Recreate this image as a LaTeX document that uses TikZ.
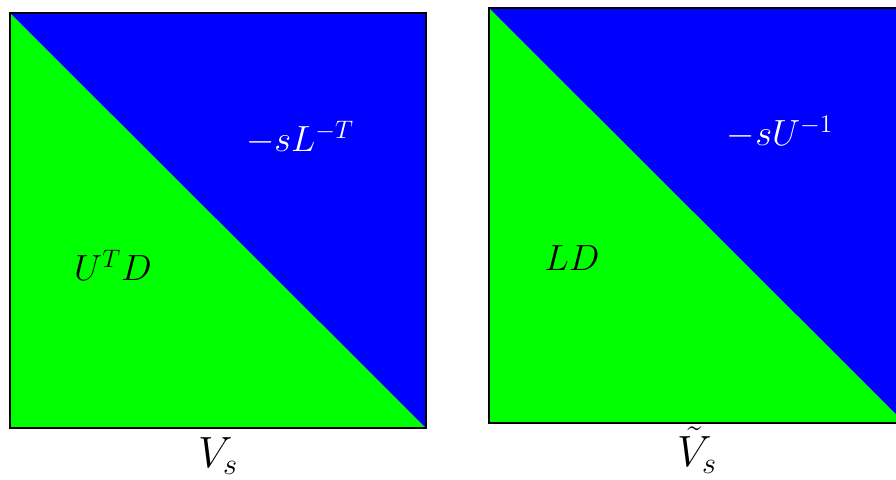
\documentclass[tikz,border=0pt]{standalone}
\usepackage{amsmath,amssymb}
\usepackage{xcolor}
\usepackage{tikz}
\usetikzlibrary{positioning,calc}
\definecolor{lowgreen}{RGB}{0,255,0}
\definecolor{upblue}{RGB}{0,0,255}

\begin{document}
\begin{tikzpicture}[
  frame/.style={line width=1.7pt, black},
  inlabel/.style={font=\fontsize{22}{26}\selectfont, inner sep=0pt},
  caption/.style={font=\fontsize{24}{28}\selectfont, inner sep=0pt}
]
\useasboundingbox (0,0) rectangle (17.92,9.58);
\clip (0,0) rectangle (17.92,9.58);

% Left block V_s
\begin{scope}[xshift=0.2cm, yshift=1.02cm]
  \coordinate (A1) at (0,0);
  \coordinate (A2) at (8.32,0);
  \coordinate (A3) at (8.32,8.3);
  \coordinate (A4) at (0,8.3);
  \fill[lowgreen] (A1) -- (A2) -- (A4) -- cycle;
  \fill[upblue] (A2) -- (A3) -- (A4) -- cycle;
  \draw[frame] (A1) rectangle (A3);
  \node[inlabel, white] (lup) at (5.8,5.8) {$-sL^{-T}$};
  \node[inlabel] (llow) at (2.06,3.26) {$U^TD$};
  \node[caption] (lcap) at (4.16,-0.56) {$V_s$};
\end{scope}

% Right block tilde V_s
\begin{scope}[xshift=9.78cm, yshift=1.12cm]
  \coordinate (B1) at (0,0);
  \coordinate (B2) at (8.32,0);
  \coordinate (B3) at (8.32,8.3);
  \coordinate (B4) at (0,8.3);
  \fill[lowgreen] (B1) -- (B2) -- (B4) -- cycle;
  \fill[upblue] (B2) -- (B3) -- (B4) -- cycle;
  \draw[frame] (B1) rectangle (B3);
  \node[inlabel, white] (rup) at (5.82,5.82) {$-sU^{-1}$};
  \node[inlabel] (rlow) at (1.66,3.3) {$LD$};
  \node[caption] (rcap) at (4.16,-0.54) {$\tilde{V}_s$};
\end{scope}

\end{tikzpicture}
\end{document}
